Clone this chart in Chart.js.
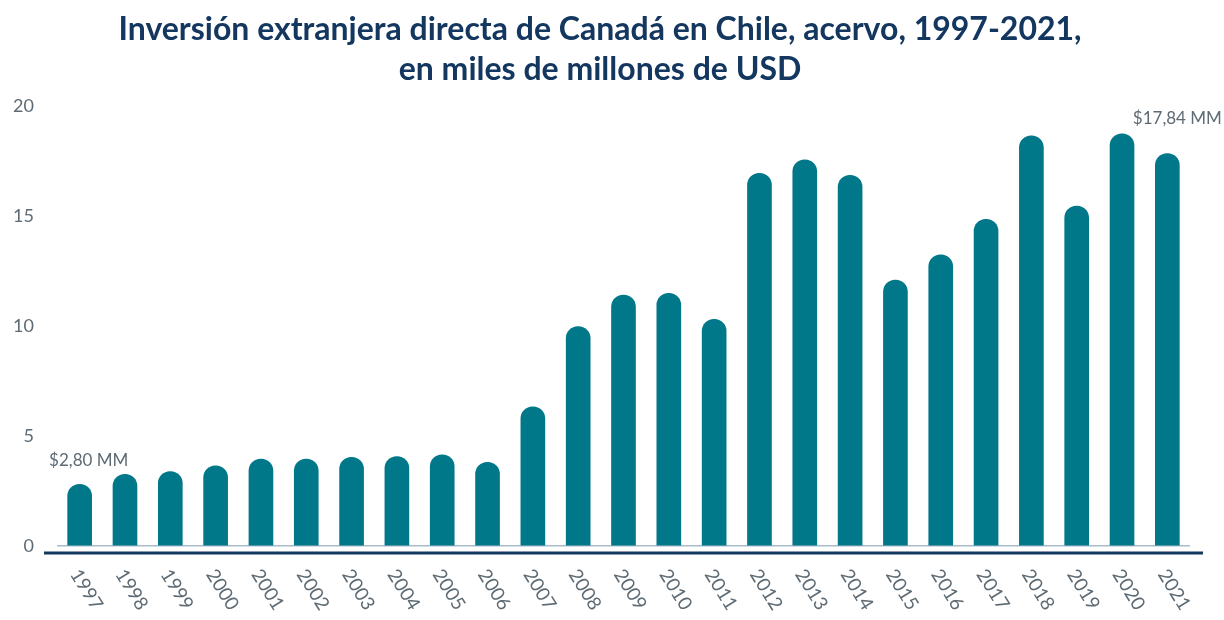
<!DOCTYPE html>
<html lang="es">
<head>
<meta charset="utf-8">
<title>IED de Canadá en Chile</title>
<script src="https://cdn.jsdelivr.net/npm/chart.js@4/dist/chart.umd.min.js"></script>
<style>
  html, body { margin: 0; padding: 0; background: #fff; }
  #wrap { width: 1224px; height: 620px; position: relative; }
</style>
</head>
<body>
<div id="wrap"><canvas id="iedChart"></canvas></div>
<script>
// Datos del gráfico (miles de millones de USD)
const years = ['1997', '1998', '1999', '2000', '2001', '2002', '2003', '2004', '2005', '2006',
  '2007', '2008', '2009', '2010', '2011', '2012', '2013', '2014', '2015', '2016',
  '2017', '2018', '2019', '2020', '2021'];
const stockValues = [2.80, 3.26, 3.38, 3.64, 3.95, 3.95, 4.03, 4.06, 4.14, 3.80,
  6.33, 9.97, 11.41, 11.48, 10.30, 16.94, 17.55, 16.85, 12.09, 13.24,
  14.85, 18.64, 15.45, 18.73, 17.84];
const yTicks = [0, 5, 10, 15, 20];
const noteYears = ['1997', '2021'];
const noteTexts = ['$2,80 MM', '$17,84 MM'];

const TEAL = '#00788a';
const NAVY = '#143760';
const GREY = '#5e6b74';

// Etiquetas del eje X giradas y doble línea base
const axisDecor = {
  id: 'axisDecor',
  afterDraw(chart) {
    const { ctx, scales: { x, y } } = chart;
    const base = y.getPixelForValue(0);

    ctx.save();
    ctx.strokeStyle = NAVY;
    ctx.lineWidth = 3;
    ctx.beginPath();
    ctx.moveTo(44, base + 7);
    ctx.lineTo(1203, base + 7);
    ctx.stroke();

    ctx.fillStyle = GREY;
    ctx.font = '19px Lato';
    ctx.textAlign = 'left';
    ctx.textBaseline = 'middle';
    years.forEach((yr, i) => {
      ctx.save();
      ctx.translate(x.getPixelForValue(i) - 5, base + 25);
      ctx.rotate(58 * Math.PI / 180);
      ctx.fillText(yr, 0, 0);
      ctx.restore();
    });

    // Notas de valor
    const meta = chart.getDatasetMeta(0);
    const offsets = [[9, -24], [10, -35]];
    ctx.font = '17px Lato';
    ctx.textAlign = 'center';
    noteYears.forEach((yr, k) => {
      const bar = meta.data[years.indexOf(yr)];
      ctx.fillText(noteTexts[k], bar.x + offsets[k][0], bar.y + offsets[k][1]);
    });
    ctx.restore();
  }
};

new Chart(document.getElementById('iedChart'), {
  type: 'bar',
  data: {
    labels: years,
    datasets: [{
      label: 'IED Canadá en Chile',
      data: stockValues,
      backgroundColor: TEAL,
      barThickness: 24,
      borderRadius: { topLeft: 12, topRight: 12, bottomLeft: 0, bottomRight: 0 },
      borderSkipped: 'bottom'
    }]
  },
  options: {
    responsive: true,
    maintainAspectRatio: false,
    animation: false,
    layout: { padding: { left: 10, right: 34, top: 0, bottom: 0 } },
    plugins: {
      legend: { display: false },
      tooltip: { enabled: false },
      title: {
        display: true,
        text: ['Inversión extranjera directa de Canadá en Chile, acervo, 1997-2021,',
               'en miles de millones de USD'],
        color: NAVY,
        font: { family: 'Lato', size: 32, weight: 'bold', lineHeight: 1.25 },
        padding: { top: 10, bottom: 16 }
      }
    },
    scales: {
      x: {
        grid: { display: false },
        border: { display: false },
        ticks: { display: false },
        afterFit: (s) => { s.height = 74; }
      },
      y: {
        min: 0,
        max: 20,
        afterBuildTicks: (s) => { s.ticks = yTicks.map(v => ({ value: v })); },
        afterFit: (s) => { s.width = 47; },
        border: { display: false },
        grid: {
          drawTicks: false,
          lineWidth: 1.5,
          color: (c) => (c.tick && c.tick.value === 0 ? '#a9bccb' : 'rgba(0,0,0,0)')
        },
        ticks: {
          padding: 23,
          color: GREY,
          font: { family: 'Lato', size: 18 }
        }
      }
    }
  },
  plugins: [axisDecor]
});
</script>
</body>
</html>
